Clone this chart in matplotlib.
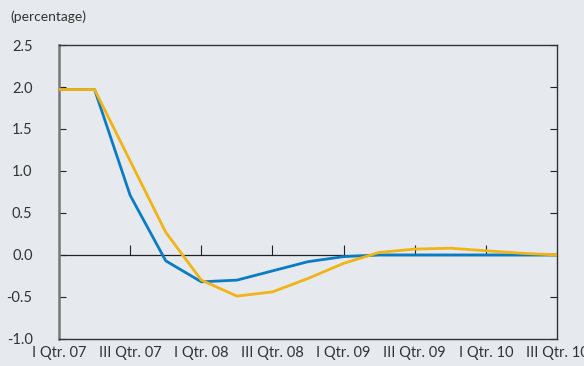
import matplotlib.pyplot as plt

quarters = ["I Qtr. 07", "III Qtr. 07", "I Qtr. 08", "III Qtr. 08",
            "I Qtr. 09", "III Qtr. 09", "I Qtr. 10", "III Qtr. 10"]
x = list(range(15))
blue = [1.97, 1.97, 0.71, -0.07, -0.32, -0.30, -0.19, -0.08, -0.02,
        0.0, 0.0, 0.0, 0.0, 0.0, 0.0]
yellow = [1.97, 1.97, 1.12, 0.27, -0.30, -0.49, -0.44, -0.28, -0.10,
          0.03, 0.07, 0.08, 0.05, 0.02, 0.0]

bg = "#e6e9ee"
plt.rcParams["font.family"] = ["Lato", "DejaVu Sans"]

fig = plt.figure(figsize=(5.84, 3.66), dpi=100, facecolor=bg)
ax = fig.add_axes([0.101, 0.074, 0.853, 0.803], facecolor=bg)

ax.plot(x, blue, color="#0a7cc4", lw=2.0, zorder=3)
ax.plot(x, yellow, color="#f0b414", lw=2.0, zorder=3)
ax.axhline(0, color="#222222", lw=0.9, zorder=2)

ax.set_xlim(0, 14)
ax.set_ylim(-1.0, 2.5)
ax.set_yticks([-1.0, -0.5, 0.0, 0.5, 1.0, 1.5, 2.0, 2.5])
ax.set_yticklabels(["-1.0", "-0.5", "0.0", "0.5", "1.0", "1.5", "2.0", "2.5"])
ax.tick_params(axis="y", direction="in", length=5, pad=19, labelsize=10.5,
               right=True, color="#222222", labelcolor="#333333")
ax.set_xticks(range(0, 15, 2))
ax.set_xticklabels(quarters)
ax.tick_params(axis="x", length=0, pad=5, labelsize=10.5, labelcolor="#333333")

# tick marks sitting on the zero line
sec = ax.secondary_xaxis(1.0 / 3.5)
sec.set_xticks(range(2, 14, 2))
sec.tick_params(direction="in", length=7, labelbottom=False, labeltop=False,
                color="#222222")
sec.spines["bottom"].set_visible(False)
sec.spines["top"].set_visible(False)

ax.spines["left"].set_color("#777777")
ax.spines["left"].set_linewidth(1.8)
for s in ["right", "top", "bottom"]:
    ax.spines[s].set_color("#333333")
    ax.spines[s].set_linewidth(1.0)

fig.text(0.017, 0.953, "(percentage)", fontsize=10, color="#333333",
         va="center", ha="left")

fig.savefig("out.png", dpi=100, facecolor=bg)
